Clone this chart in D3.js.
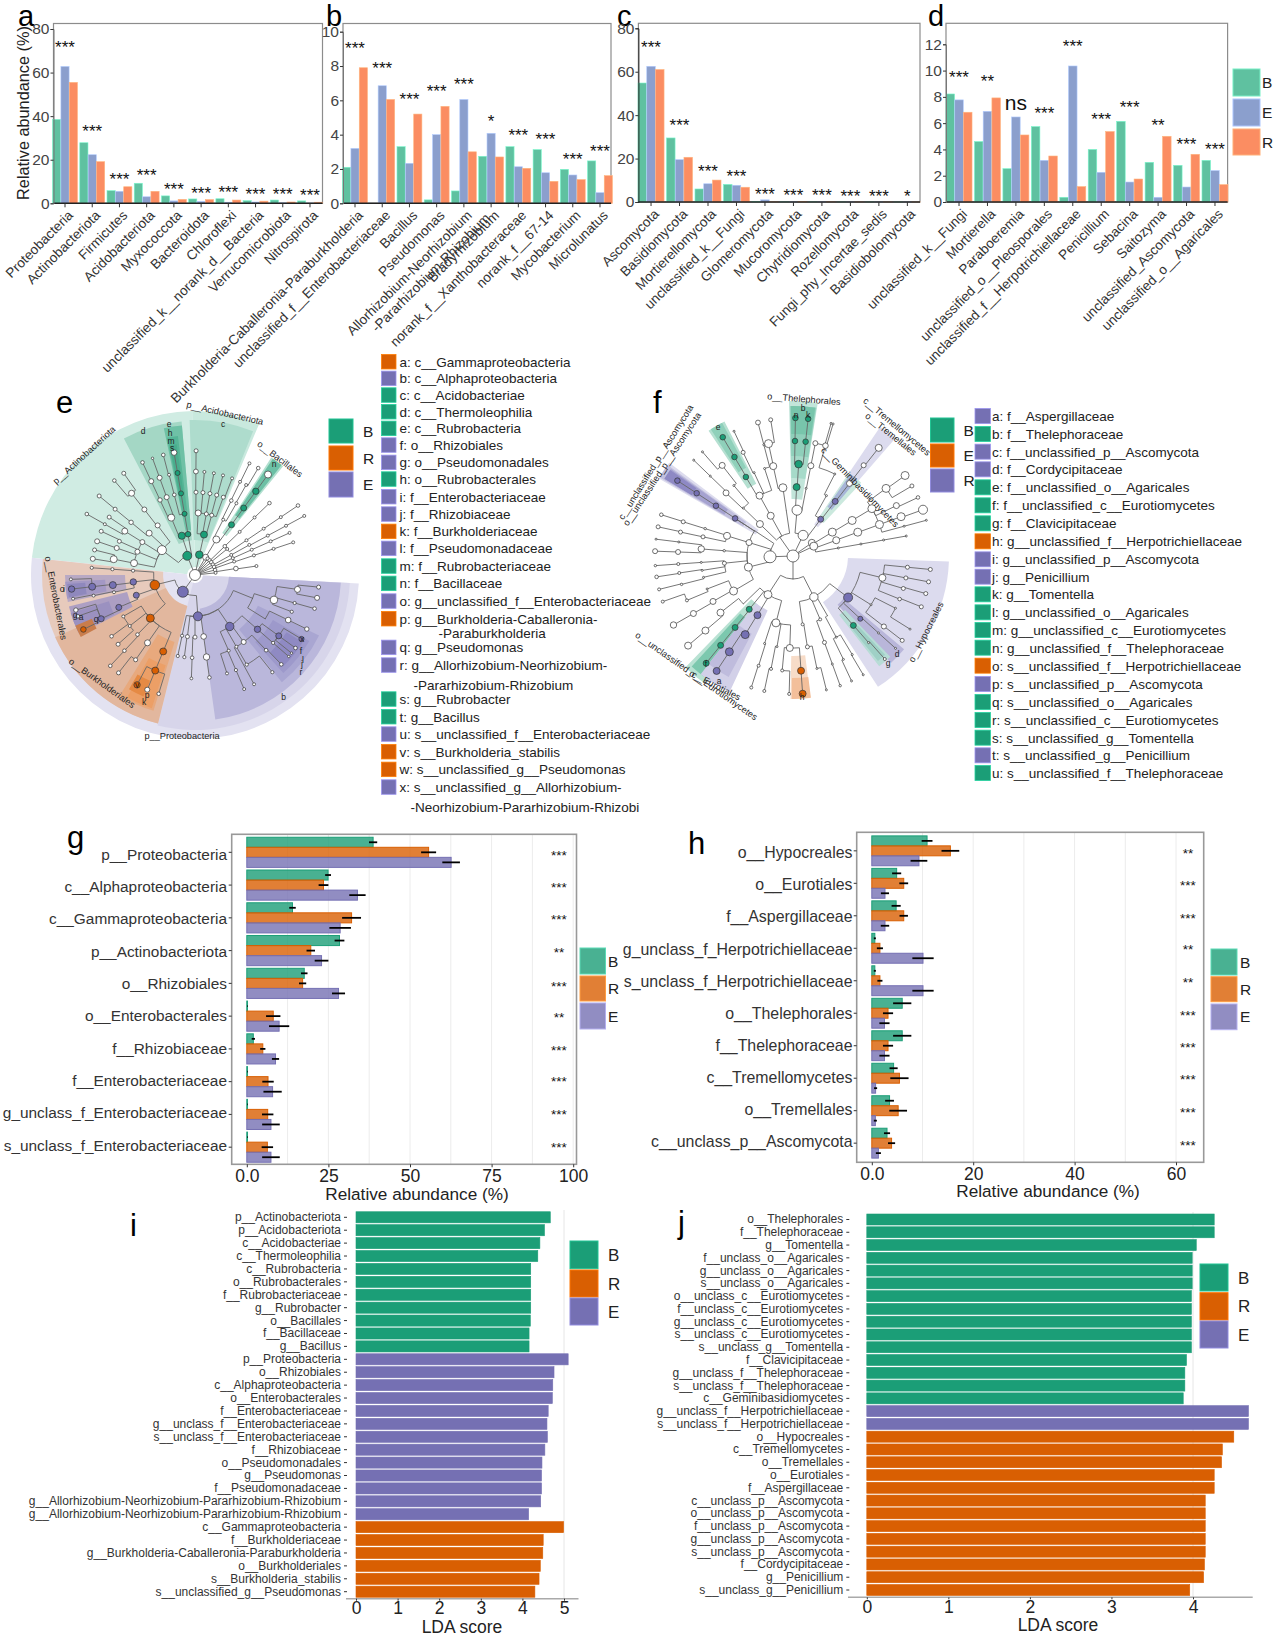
<!DOCTYPE html>
<html><head><meta charset="utf-8">
<script src="https://cdn.jsdelivr.net/npm/d3@7"></script>
<style>
html,body{margin:0;padding:0;background:#fff;}
svg{display:block;font-family:"Liberation Sans",Arial,sans-serif;}
</style></head><body><svg id="c" width="1277" height="1637"></svg>
<script>
// ---------- panels a-d ----------
const groupsTop=["B","E","R"];
const catsA=["Proteobacteria","Actinobacteriota","Firmicutes","Acidobacteriota","Myxococcota","Bacteroidota","Chloroflexi","unclassified_k__norank_d__Bacteria","Verrucomicrobiota","Nitrospirota"];
const aB=[38.5,27.8,5.8,9.2,3.4,2,2.1,1.2,1.5,1.1];
const aE=[62.8,22.3,5.5,3,1.1,.9,.5,.6,.2,.1];
const aR=[55.5,19.1,7.6,5.5,1.8,1.7,1.5,1,.6,.5];
const aSig=["***","***","***","***","***","***","***","***","***","***"];
const aSigY=[73.4,35.2,13,14.8,8.4,6.7,7,6,6.3,5.8];
const catsB=["Burkholderia-Caballeronia-Paraburkholderia","unclassified_f__Enterobacteriaceae","Bacillus","Pseudomonas","Allorhizobium-Neorhizobium|-Pararhizobium-Rhizobium","Bradyrhizobium","norank_f__Xanthobacteraceae","norank_f__67-14","Mycobacterium","Microlunatus"];
const bB=[2.1,0,3.3,.2,.72,2.74,3.3,3.13,1.98,2.47];
const bE=[3.2,6.85,2.33,4,6.05,4.08,2.13,1.78,1.65,.62];
const bR=[7.9,6.05,5.2,5.65,3,2.7,2.04,1.28,1.38,1.61];
const bSig=["***","***","***","***","***","*","***","***","***","***"];
const bSigY=[9.3,8.1,6.3,6.8,7.2,5.05,4.2,4,2.8,3.3];
const catsC=["Ascomycota","Basidiomycota","Mortierellomycota","unclassified_k__Fungi","Glomeromycota","Mucoromycota","Chytridiomycota","Rozellomycota","Fungi_phy_Incertae_sedis","Basidiobolomycota"];
const cB=[54.8,29.5,6,8.1,.2,.1,.1,.05,.05,.03];
const cE=[62.5,19.5,8.4,7.7,1,.1,.1,.05,.03,.03];
const cR=[61,20.6,10.1,6.8,.1,.3,.1,.05,.03,.03];
const cSig=["***","***","***","***","***","***","***","***","***","*"];
const cSigY=[73.4,37.2,16,13.7,5.7,5.2,4.9,4.8,4.8,4.8];
const catsD=["unclassified_k__Fungi","Mortierella","Paraboeremia","unclassified_o__Pleosporales","unclassified_f__Herpotrichiellaceae","Penicillium","Sebacina","Saitozyma","unclassified_Ascomycota","unclassified_o__Agaricales"];
const dB=[8.22,4.6,2.54,5.74,.36,4,6.14,3.02,2.79,3.17];
const dE=[7.77,6.9,6.47,3.17,10.35,2.26,1.52,.36,1.14,2.39];
const dR=[6.83,7.92,5.1,3.5,1.17,5.36,1.75,5,3.63,1.32];
const dSig=["***","**","ns","***","***","***","***","**","***","***"];
const dSigY=[9.8,9.5,7.5,7.1,12.2,6.65,7.56,6.2,4.75,4.3];
// ---------- panels g,h ----------
const catsG=["p__Proteobacteria","c__Alphaproteobacteria","c__Gammaproteobacteria","p__Actinobacteriota","o__Rhizobiales","o__Enterobacterales","f__Rhizobiaceae","f__Enterobacteriaceae","g_unclass_f_Enterobacteriaceae","s_unclass_f_Enterobacteriaceae"];
const gB=[38.7,24.9,14,28.4,17.6,.2,2,.2,.2,.2];
const gR=[55.7,23.5,32.1,19.6,17.1,8.1,4.9,6.5,6.4,6.3];
const gE=[62.6,33.9,28.6,22.9,28.1,9.9,8.8,7.9,7.4,7.4];
const gBe=[1.25,.9,1,1.5,1,.1,.5,.1,.1,.1];
const gRe=[2.3,1.5,2.9,1.3,1.1,2.2,.8,1.75,1.75,1.75];
const gEe=[2.7,2.5,3.3,2.1,2,3.1,1.1,2.8,2.7,2.7];
const gSig=["***","***","***","**","***","**","***","***","***","***"];
const catsH=["o__Hypocreales","o__Eurotiales","f__Aspergillaceae","g_unclass_f_Herpotrichiellaceae","s_unclass_f_Herpotrichiellaceae","o__Thelephorales","f__Thelephoraceae","c__Tremellomycetes","o__Tremellales","c__unclass_p__Ascomycota"];
const hB=[10.9,4.9,4.8,.6,.6,6,6,4.3,3.5,3];
const hR=[15.5,6.3,6.3,1.6,1.6,3.2,3.2,5.45,5.2,3.9];
const hE=[9.3,2.6,2.6,10.1,10.1,2.5,2.5,.75,.7,1.3];
const hBe=[1.07,.9,.9,.2,.2,1.8,1.8,.8,.87,.6];
const hRe=[1.75,.87,.83,.6,.5,1,1,1.8,1.75,.7];
const hEe=[1.65,.8,.83,2.1,2.1,1,1,.3,.3,.5];
const hSig=["**","***","***","**","**","***","***","***","***","***"];
// ---------- panels i,j ----------
const catsI=["p__Actinobacteriota","p__Acidobacteriota","c__Acidobacteriae","c__Thermoleophilia","c__Rubrobacteria","o__Rubrobacterales","f__Rubrobacteriaceae","g__Rubrobacter","o__Bacillales","f__Bacillaceae","g__Bacillus","p__Proteobacteria","o__Rhizobiales","c__Alphaproteobacteria","o__Enterobacterales","f__Enterobacteriaceae","g__unclass_f__Enterobacteriaceae","s__unclass_f__Enterobacteriaceae","f__Rhizobiaceae","o__Pseudomonadales","g__Pseudomonas","f__Pseudomonadaceae","g__Allorhizobium-Neorhizobium-Pararhizobium-Rhizobium","g__Allorhizobium-Neorhizobium-Pararhizobium-Rhizobium","c__Gammaproteobacteria","f__Burkholderiaceae","g__Burkholderia-Caballeronia-Paraburkholderia","o__Burkholderiales","s__Burkholderia_stabilis","s__unclassified_g__Pseudomonas"];
const ldaI=[4.67,4.53,4.42,4.37,4.2,4.2,4.2,4.2,4.19,4.16,4.16,5.1,4.76,4.73,4.72,4.62,4.59,4.6,4.54,4.47,4.46,4.46,4.44,4.15,4.99,4.5,4.49,4.43,4.4,4.3];
const grpI=["B","B","B","B","B","B","B","B","B","B","B","E","E","E","E","E","E","E","E","E","E","E","E","E","R","R","R","R","R","R"];
const catsJ=["o__Thelephorales","f__Thelephoraceae","g__Tomentella","f__unclass_o__Agaricales","g__unclass_o__Agaricales","s__unclass_o__Agaricales","o__unclass_c__Eurotiomycetes","f__unclass_c__Eurotiomycetes","g__unclass_c__Eurotiomycetes","s__unclass_c__Eurotiomycetes","s__unclass_g__Tomentella","f__Clavicipitaceae","g__unclass_f__Thelephoraceae","s__unclass_f__Thelephoraceae","c__Geminibasidiomycetes","g__unclass_f__Herpotrichiellaceae","s__unclass_f__Herpotrichiellaceae","o__Hypocreales","c__Tremellomycetes","o__Tremellales","o__Eurotiales","f__Aspergillaceae","c__unclass_p__Ascomycota","o__unclass_p__Ascomycota","f__unclass_p__Ascomycota","g__unclass_p__Ascomycota","s__unclass_p__Ascomycota","f__Cordycipitaceae","g__Penicillium","s__unclass_g__Penicillium"];
const ldaJ=[4.26,4.26,4.04,3.99,3.99,3.99,3.98,3.98,3.98,3.98,3.98,3.92,3.9,3.9,3.88,4.68,4.68,4.5,4.36,4.35,4.26,4.26,4.15,4.15,4.15,4.15,4.15,4.14,4.13,3.96];
const grpJ=["B","B","B","B","B","B","B","B","B","B","B","B","B","B","B","E","E","R","R","R","R","R","R","R","R","R","R","R","R","R"];
// ---------- cladogram legends ----------
const legE=[["a: c__Gammaproteobacteria","O"],["b: c__Alphaproteobacteria","P"],["c: c__Acidobacteriae","G"],["d: c__Thermoleophilia","G"],["e: c__Rubrobacteria","G"],["f: o__Rhizobiales","P"],["g: o__Pseudomonadales","P"],["h: o__Rubrobacterales","G"],["i: f__Enterobacteriaceae","P"],["j: f__Rhizobiaceae","P"],["k: f__Burkholderiaceae","O"],["l: f__Pseudomonadaceae","P"],["m: f__Rubrobacteriaceae","G"],["n: f__Bacillaceae","G"],["o: g__unclassified_f__Enterobacteriaceae","P"],["p: g__Burkholderia-Caballeronia-","O"],["-Paraburkholderia",""],["q: g__Pseudomonas","P"],["r: g__Allorhizobium-Neorhizobium-","P"],["-Pararhizobium-Rhizobium",""],["s: g__Rubrobacter","G"],["t: g__Bacillus","G"],["u: s__unclassified_f__Enterobacteriaceae","P"],["v: s__Burkholderia_stabilis","O"],["w: s__unclassified_g__Pseudomonas","O"],["x: s__unclassified_g__Allorhizobium-","P"],["-Neorhizobium-Pararhizobium-Rhizobi",""]];
const legEy=[35,85,135,185,235,285,337,387,440,492,544,595,648,700,753,806,850,892,945,1005,1047,1100,1152,1205,1258,1311,1370];
const legEx=[0,0,0,0,0,0,0,0,0,0,0,0,0,0,0,0,39,0,0,14,0,0,0,0,0,0,11];
const legF=[["a: f__Aspergillaceae","P"],["b: f__Thelephoraceae","G"],["c: f__unclassified_p__Ascomycota","P"],["d: f__Cordycipitaceae","P"],["e: f__unclassified_o__Agaricales","G"],["f: f__unclassified_c__Eurotiomycetes","G"],["g: f__Clavicipitaceae","G"],["h: g__unclassified_f__Herpotrichiellaceae","O"],["i: g__unclassified_p__Ascomycota","P"],["j: g__Penicillium","P"],["k: g__Tomentella","G"],["l: g__unclassified_o__Agaricales","G"],["m: g__unclassified_c__Eurotiomycetes","G"],["n: g__unclassified_f__Thelephoraceae","G"],["o: s__unclassified_f__Herpotrichiellaceae","O"],["p: s__unclassified_p__Ascomycota","P"],["q: s__unclassified_o__Agaricales","G"],["r: s__unclassified_c__Eurotiomycetes","G"],["s: s__unclassified_g__Tomentella","G"],["t: s__unclassified_g__Penicillium","P"],["u: s__unclassified_f__Thelephoraceae","G"]];
const legFy=[138,192,245,298,352,406,460,514,568,620,673,727,780,833,887,942,996,1050,1103,1156,1209];
// cladogram tree rows: [level, bearing degrees, colour, node size]; the parent of a row is the latest row of a lower level
const treeE=[[0,0,"w",5.5],
[1,-22,"G",4.5],[2,-53,"w",4.5],[3,-79,"w",3.5],[4,-79,"w",3.5],[5,-76,"w",2],[5,-81,"w",2.5],[4,-71,"w",2.5],[5,-71,"w",2.5],
[3,-68,"w",2.5],[3,-58,"w",2.5],[4,-58,"w",3],[5,-56,"w",2],[5,-60.6,"w",1.5],[6,-60.6,"w",1.8],[4,-66,"w",2],[5,-65,"w",2],
[3,-47.6,"w",3],[4,-50.5,"w",2.2],[5,-50.5,"w",2],[6,-50.5,"w",2],[3,-37,"w",2.5],[4,-37.7,"w",2.5],[5,-37.8,"w",3],[6,-35,"w",2],[6,-40.5,"w",1.8],
[2,-18.6,"G",3.6],[3,-22.5,"w",3.5],[4,-25,"w",2.2],[5,-25,"w",2.5],[6,-25,"w",1.8],[4,-20,"w",2.5],[5,-20,"w",2.5],[6,-20,"w",1.2],
[2,-9.7,"G",2.8],[3,-9.7,"G",2.5],[4,-9.7,"G",2.5],[5,-9.7,"G",2.5],[6,-9.7,"w",2.8],[4,-14.5,"w",1.8],[5,-14.5,"w",1.5],[6,-14.8,"w",1.8],
[1,12,"G",3.8],[2,12.5,"G",3.5],[3,2.9,"w",3],[4,.7,"w",2],[5,.5,"w",2.4],[6,.5,"w",2],[3,10.5,"w",2],[4,5.5,"w",2],[5,5.2,"w",1.5],
[3,15.6,"w",2],[4,10.4,"w",2],[5,10.5,"w",1.5],[4,15.2,"w",2],[5,15.7,"w",1.5],[4,20,"w",2],[5,21,"w",1.5],
[1,31,"w",3],[2,31,"w",3.5],[3,36,"G",3],[4,36,"G",3],[5,36,"G",3.2],[6,36,"w",3.5],[3,27,"w",1.5],[4,26,"w",1.8],[5,25.8,"w",1.5],[6,26,"w",1.5],[4,30,"w",1.5],[5,29.6,"w",1.5],[6,30.6,"w",1.8],
[1,38,"w",1.8],[2,46,"w",1.8],[3,46,"w",1.5],[4,46,"w",1.5],[5,46,"w",1.8],[1,45,"w",1.8],[2,51,"w",1.5],[3,56,"w",1.5],[4,56,"w",1.5],[5,56,"w",1.5],[6,56,"w",1.8],
[1,52,"w",1.8],[2,61,"w",1.5],[3,61,"w",1.5],[4,61.6,"w",1.5],[5,61.6,"w",1.5],[6,61.6,"w",1.5],[1,60,"w",1.8],[2,66,"w",1.5],[3,66,"w",1.5],[4,66,"w",1.5],[5,66,"w",1.5],
[1,67,"w",1.8],[2,71,"w",1.5],[3,71.6,"w",1.5],[4,71.6,"w",1.5],[5,71.6,"w",1.5],[1,76,"w",1.8],[2,81,"w",2.3],[3,81.7,"w",1.5],[1,84,"w",1.5],
[1,216,"P",5.5],[2,256,"O",4.8],[3,226,"O",4],[4,202.6,"O",3.5],[5,202.6,"O",3.5],[6,207.8,"O",3.2],[6,202.6,"w",2.5],[6,197,"w",1.8],
[4,215,"w",3],[5,215,"w",2],[6,218,"w",2],[4,224,"w",1.8],[5,223,"w",1.8],[6,223,"w",1.8],[4,232,"w",1.5],[5,228,"w",2],[4,240,"w",1.5],[5,233.7,"w",1.8],
[3,251,"P",3],[4,247,"P",3],[5,245,"P",3],[6,244,"O",2.8],[6,250.6,"w",1.8],[6,253.6,"w",2.2],[3,263.6,"P",3.2],[4,263,"P",3.5],[5,263.5,"P",3.5],[6,263.5,"P",3.2],[6,268,"w",1.5],
[4,258,"w",1.5],[5,258.5,"w",1.5],[6,259,"w",1.5],[3,274,"w",1.6],[4,274,"w",1.6],[5,274,"w",1.6],
[2,176,"P",4.5],[3,146,"P",4.2],[4,131,"P",3.2],[5,126,"P",3],[6,121,"P",2.6],[6,126,"w",1.8],[6,129,"w",1.2],[6,131,"w",1.2],[5,131,"w",1.6],
[4,144,"w",2.5],[5,136.6,"w",1.8],[6,136,"w",1.8],[5,150,"w",1.6],[6,141.5,"w",1.6],[4,150,"w",1.5],[6,151.6,"w",1.5],[4,156,"w",1.5],[5,156.7,"w",1.6],[6,156.7,"w",1.5],[5,162,"w",1.5],
[3,172,"w",2.8],[4,172,"w",3.2],[5,172,"w",1.8],[3,180,"w",2],[4,182,"w",1.8],[5,182,"w",1.4],[3,187,"w",2],[4,187.4,"w",1.6],[3,192,"w",1.6],[4,192,"w",1.6],
[3,112,"w",.1],[4,107.5,"w",3.8],[5,98,"w",3],[6,95.6,"w",2],[6,100.6,"w",2.5],[5,105.7,"w",1.6],[6,105.7,"w",1.8],[5,110.8,"w",1.6],[4,122,"w",.1],[5,115.8,"w",2.8],[6,115.8,"w",2.2]];
// [bearing from, bearing to, inner radius, outer radius, fill]
const wedgesE=[[-84,-1,8,164,"#d0ece3"],[-1,23,8,164,"#c9e9de"],[-2,22,35,155,"#aedccd"],[-27.5,-5,35,154,"#a4d7c5"],[-12,-5,45,150,"#6fc1a6"],[-11.5,-7,65,140,"#55b596"],[-11,-8,85,132,"#49ad8d"],
[33,39,50,140,"#b3e0d0"],[33.8,38.2,72,140,"#6cc0a5"],[93,276,8,164,"#e3e2f1"],[93,194,8,155,"#d7d5ea"],[93,172,34,146,"#bab7db"],[116,141,70,138,"#a9a6d2"],[120,138,90,132,"#9d99cb"],[122,136,108,127,"#8f8ac3"],
[194,276,32,153,"#e7cabc"],[194,246,32,153,"#e2b79e"],[197,212,70,142,"#e8a97d"],[198,209,95,140,"#ec9f66"],[203,210,115,132,"#e58a44"],[258,270,70,130,"#b8a9c4"],[259.5,267,90,130,"#a398c4"],[260,266,110,128,"#8f88bd"],[243,256,70,130,"#ad9fc3"],[244,253,90,130,"#9b91c0"],[241.5,247,112,130,"#c97d4c"]];
// [text, x, y, rotation]
const labelsE=[["p__Acidobacteriota",225,413,13],["p__Actinobacteriota",84,455,-42.5],["o__Bacillales",280,459,37],["o__Enterobacterales",56,598,79],["o__Burkholderiales",102,683,35.5],["p__Proteobacteria",182,736,0]];
const lettersE=[["d",143,431],["e",169,424],["h",170,433],["m",171,441],["s",172,448],["c",223,424],["n",274,464],["b",283.6,697],["f",301,651],["j",302,664],["r",301,672],["l",303,660],["x",302,639],["q",96,619],["o",62,589],["i",64,589],["g",75,615],["a",81,617],["k",144,702],["p",147,695],["v",137,685]];
const treeF=[[0,0,"w",6],
[1,268,"w",6],[2,256,"w",4],[3,-73,"w",3.5],[4,-78,"w",2],[5,-78,"w",2],[6,-77.8,"w",2],[4,-72.7,"w",1.2],[5,-72.7,"w",2],[6,-72.6,"w",1.8],
[3,-85.6,"w",1.2],[4,-85.6,"w",3.2],[5,-88,"w",2.5],[6,-88,"w",2.5],[5,-83,"w",1],[6,-83,"w",1],
[3,264,"w",2],[4,266,"w",1],[5,266,"w",1.5],[6,266,"w",1.2],[4,261,"w",1],[5,261.5,"w",1.5],[6,261.3,"w",1.8],[4,256.6,"w",1],[5,255.7,"w",1.2],[6,256,"w",1.5],
[3,239.5,"w",4],[4,240.4,"w",3],[5,240,"w",3],[6,240,"w",3.2],[4,249,"w",1],[5,247.3,"w",1.5],[6,250.7,"w",1.5],
[2,-73,"w",3],[3,-57,"P",.1],[2,-56.6,"P",.1],[3,-57,"P",2.8],[4,-56.9,"P",2.8],[5,-56.9,"P",2.8],[6,-56.9,"P",2.8],
[1,-35,"w",.1],[2,-46,"w",3.5],[3,-46,"w",1],[4,-46.7,"w",3],[5,-46,"w",1],[6,-46,"w",1],[4,-40,"w",1],[5,-38,"w",3],[6,-41,"w",1],
[2,-29,"w",3.5],[3,-29,"w",3.5],[4,-30.8,"G",2.8],[5,-30.6,"G",2.8],[6,-30.6,"G",2.8],[4,-25,"w",1],[5,-25.7,"w",2],[6,-25.3,"w",1],[4,-18,"w",1],[5,-14.7,"w",1],[6,-14.7,"w",2.4],
[2,-8.4,"w",.1],[3,-8.4,"w",4],[4,-12.4,"w",3.5],[5,-12.3,"w",4],[6,-9.3,"w",2],
[1,26,"w",5],[2,5,"w",5],[3,3,"G",3.5],[4,3.5,"G",3.8],[5,1,"G",2.8],[6,1,"G",2.8],[5,6.3,"G",2.8],[6,6.3,"G",2.8],[3,11,"w",1],[4,11.2,"w",3],[5,11.2,"w",2.5],[6,16,"w",1],
[2,37,"P",3],[3,37.7,"P",3],[4,37.9,"w",3],[5,37.9,"w",2.5],[6,38.4,"w",3.5],[3,29,"w",1],[4,27,"w",1],[5,16.4,"w",2.8],[6,16.9,"w",1],
[1,55,"w",3.5],[2,58.7,"w",4],[3,59,"w",4],[4,59,"w",4],[5,54,"w",4],[6,54.3,"w",4],[6,59.5,"w",2],[5,64,"w",3],[6,64.9,"w",1.8],[5,70,"w",4],[6,70.4,"w",4.5],
[1,64.7,"w",4],[2,70,"w",3.5],[3,69.8,"w",4],[4,70,"w",4],[5,75,"w",1],[6,75,"w",1],[2,80,"w",1],[3,80,"w",1],[4,80,"w",1],[5,80,"w",1],
[1,180,"w",.1],[2,153,"w",4.2],[3,127,"P",4.5],[4,103.7,"w",3.5],[5,95.6,"w",2],[6,95.6,"w",2],[5,101,"w",2],[6,100.8,"w",2],[5,106.4,"w",2],[6,105.8,"w",2],[5,112,"w",1.8],[6,111.6,"w",2],
[4,122,"w",1],[5,117,"w",1],[6,122,"w",1],[5,127.8,"w",2.5],[6,127.7,"w",2],[4,133,"P",2.5],[5,132,"w",1],[6,132,"w",1],[4,139,"G",3],[5,138.9,"w",1],[6,138.3,"w",1.5],
[3,172,"w",1.5],[4,171,"w",2],[5,168,"w",1],[6,166,"w",1],[3,156.8,"w",1.5],[4,160,"w",2],[5,160,"w",1],[6,160,"w",1.2],[3,150,"w",.1],[4,152,"w",1],[5,154,"w",1],[6,154.9,"w",1],[5,149,"w",1],[6,149.4,"w",1],
[2,213,"w",4],[3,194.3,"w",4],[4,182,"w",3.5],[5,176,"O",3.5],[6,176,"O",3.5],[5,185.4,"w",1.5],[6,181.6,"w",1.5],[4,198,"w",1],[5,197.4,"w",1.5],[6,197.6,"w",1.5],[4,190,"w",1],[5,191,"w",1.5],[6,192,"w",1.5],
[3,211,"P",3.5],[4,211.3,"P",4],[5,213.6,"P",4],[6,213.6,"P",3.5],[3,219.4,"G",3],[4,219,"G",3],[5,219,"G",3],[6,219,"G",3],[3,226,"w",.1],[4,232,"w",3.5],[5,229.6,"w",3.5],[6,229.5,"w",3.5]];
const wedgesF=[[92,147,55,156,"#dcdbee"],[130,137.5,66,145,"#b9b6da"],[136,142,75,140,"#b7dcd6"],[137,141,95,135,"#9fd0c6"],
[-1.5,9.2,57,155,"#c2e5da"],[-1.2,9,78,150,"#a6dac9"],[-1,8.8,100,150,"#8fcfba"],[-.8,8.5,122,150,"#78c5ab"],
[-34,-27,81,151,"#b5e0d1"],[-33,-28,100,151,"#8fd0ba"],[-60,-53,43,155,"#dddcee"],[-59.5,-54,58,155,"#c1bfde"],[-59,-54.5,80,150,"#a5a2d0"],[-59,-55,118,150,"#8e89c4"],
[34,41,38,156,"#dcdbee"],[34,43,45,100,"#cbe9de"],[35,40,60,100,"#a7b5d8"],[215,224,60,155,"#b9e2d3"],[216,222.5,78,150,"#7cc8ae"],[205,218,60,150,"#d2d0e8"],[208,218,88,137,"#bfbcdd"],
[173,181,100,143,"#f7dcc8"],[172.8,180.5,122,143,"#f3bf9a"]];
const labelsF=[["o__Thelephorales",804,399,4.6],["c__Tremellomycetes",897,426.5,40],["o__Tremellales",891,434,38.6],["c__Geminibasidiomycetes",860,487,46],["c__unclassified_p__Ascomycota",655.7,462,-58],["o__unclassified_p__Ascomycota",662,469,-56.5],["o__Hypocreales",926,632,-63],["o__unclassified_c__Eurotiomycetes",696.5,676,35],["o__Eurotiales",715,685,27]];
const lettersF=[["b",803,408],["n",796,415],["k",808,415],["e",718,427],["d",897,654],["g",888,663],["a",719,681],["f",706,664],["h",802,697]];

// ---------- helpers ----------
const svg=d3.select("#c");
const font="Liberation Sans";
const setCol={B:"#5fc1a0",E:"#8b9fcd",R:"#fb8d62"};
const darkCol={G:"#1b9e77",O:"#d95f02",P:"#7570b3",B:"#1b9e77",R:"#d95f02",E:"#7570b3",w:"#fff"};
const rad=d=>d*Math.PI/180;

function letter(t,x,y,fs){svg.append("text").attr("x",x).attr("y",y).attr("font-size",fs||31).attr("fill","#000").text(t);}
function topPanel(cfg){
  const g=svg.append("g");
  const {x0,x1,yT,y0,yMax,yMaxPx,ticks,cats,vals,sig,sigY}=cfg;
  const y=d3.scaleLinear().domain([0,yMax]).range([y0,yMaxPx]);
  const x=d3.scaleBand().domain(cats).range([cfg.b0,cfg.b1]);
  const sub=d3.scaleBand().domain(groupsTop).range([0,x.bandwidth()]).paddingInner(.02).paddingOuter(.14);
  g.append("rect").attr("x",x0).attr("y",yT).attr("width",x1-x0).attr("height",y0-yT).attr("fill","#fff").attr("stroke","#8c8c8c").attr("stroke-width",1.2);
  groupsTop.forEach((k,gi)=>{
    g.selectAll(null).data(vals[gi]).join("rect")
     .attr("x",(d,i)=>x(cats[i])+sub(k)).attr("width",sub.bandwidth())
     .attr("y",d=>y(d)).attr("height",d=>y0-y(d))
     .attr("fill",setCol[k]).attr("stroke",d3.color(setCol[k]).brighter(.7)).attr("stroke-width",.6);
  });
  g.append("line").attr("x1",x0).attr("x2",x1).attr("y1",y0).attr("y2",y0).attr("stroke","#222").attr("stroke-width",1.4);
  const ya=g.append("g").attr("transform",`translate(${x0},0)`).call(d3.axisLeft(y).tickValues(ticks).tickSize(3).tickPadding(1).tickFormat(d3.format("d")));
  ya.select(".domain").attr("stroke",cfg.leftCol||"#777");
  ya.selectAll("line").attr("stroke","#333");
  ya.selectAll("text").attr("font-size",15.5).attr("fill","#444").attr("font-family",font);
  cats.forEach((c,i)=>{
    const cx=x(c)+x.bandwidth()/2;
    g.append("line").attr("x1",cx).attr("x2",cx).attr("y1",y0).attr("y2",y0+4).attr("stroke","#333");
    const lines=c.split("|");
    const t=g.append("g").attr("transform",`translate(${cx+6},${y0+10}) rotate(-45)`);
    lines.forEach((l,j)=>t.append("text").attr("x",j*11).attr("y",j*15+4).attr("text-anchor","end").attr("font-size",13.6).attr("fill","#333").text(l));
    const s=sig[i];
    const st=g.append("text").attr("x",cx).attr("text-anchor","middle").attr("fill","#111");
    if(s==="ns") st.attr("y",y(sigY[i])+7).attr("font-size",21).text(s);
    else st.attr("y",y(sigY[i])+10).attr("font-size",17).text(s);
  });
}
function hLegend(items,x0,x1,ys,tx,fn,fs){
  items.forEach((k,i)=>{
    svg.append("rect").attr("x",x0).attr("y",ys[i][0]).attr("width",x1-x0).attr("height",ys[i][1]-ys[i][0]).attr("fill",fn(k)).attr("stroke",d3.color(fn(k)).brighter(.6)).attr("stroke-width",1);
    svg.append("text").attr("x",tx).attr("y",(ys[i][0]+ys[i][1])/2).attr("dy",".36em").attr("font-size",fs).attr("fill","#222").text(k);
  });
}
function abund(cfg){
  const {fx0,fx1,fy0,fy1,px0,pxAt,vAt,ticks,minor,cats,vals,errs,sig,cy0,cy1,lblX,fmt,starX,starY,titleX,titleY}=cfg;
  const g=svg.append("g");
  const x=d3.scaleLinear().domain([0,vAt]).range([px0,pxAt]);
  const step=(cy1-cy0)/(cats.length-1);
  const y=d3.scaleBand().domain(cats).range([cy0-step/2,cy1+step/2]).paddingInner(.08);
  const sub=d3.scaleBand().domain(["B","R","E"]).range([0,y.bandwidth()]);
  minor.forEach(v=>g.append("line").attr("x1",x(v)).attr("x2",x(v)).attr("y1",fy0).attr("y2",fy1).attr("stroke","#ececec").attr("stroke-width",1));
  ["B","R","E"].forEach((k,gi)=>{
    g.selectAll(null).data(vals[gi]).join("rect")
      .attr("x",x(0)).attr("width",d=>x(d)-x(0))
      .attr("y",(d,i)=>y(cats[i])+sub(k)).attr("height",sub.bandwidth())
      .attr("fill",darkCol[k]).attr("fill-opacity",.8).attr("stroke",darkCol[k]).attr("stroke-width",1);
    g.selectAll(null).data(vals[gi]).join("line")
      .attr("x1",(d,i)=>x(d-errs[gi][i])).attr("x2",(d,i)=>x(d+errs[gi][i]))
      .attr("y1",(d,i)=>y(cats[i])+sub(k)+sub.bandwidth()/2).attr("y2",(d,i)=>y(cats[i])+sub(k)+sub.bandwidth()/2)
      .attr("stroke","#000").attr("stroke-width",1.8);
  });
  g.append("rect").attr("x",fx0).attr("y",fy0).attr("width",fx1-fx0).attr("height",fy1-fy0).attr("fill","none").attr("stroke","#999").attr("stroke-width",1.6);
  cats.forEach((c,i)=>{
    const cy=y(c)+y.bandwidth()/2;
    g.append("line").attr("x1",fx0-3).attr("x2",fx0).attr("y1",cy).attr("y2",cy).attr("stroke","#333");
    g.append("text").attr("x",lblX).attr("y",cy+cfg.lblDy*(1-2*i/(cats.length-1))).attr("dy",".36em").attr("text-anchor","end").attr("font-size",cfg.lblFs).attr("fill","#333").text(c);
    g.append("text").attr("x",starX).attr("y",starY[i]+7.5).attr("text-anchor","middle").attr("font-size",13.5).attr("fill","#111").text(sig[i]);
  });
  const xa=g.append("g").attr("transform",`translate(0,${fy1})`).call(d3.axisBottom(x).tickValues(ticks).tickSize(3).tickPadding(2).tickFormat(fmt));
  xa.select(".domain").remove();
  xa.selectAll("line").attr("stroke","#333");
  xa.selectAll("text").attr("font-size",17.5).attr("fill","#222").attr("font-family",font);
  g.append("text").attr("x",titleX).attr("y",titleY).attr("dy",".36em").attr("text-anchor","middle").attr("font-size",17.2).attr("fill","#222").text("Relative abundance (%)");
}
function lda(cfg){
  const {cats,vals,grp,px0,pxAt,vAt,axisY,ax0,ax1,cy0,cy1,lblX,ticks,grid,gridTop,titleX,titleY,fs}=cfg;
  const g=svg.append("g");
  const x=d3.scaleLinear().domain([0,vAt]).range([px0,pxAt]);
  const step=(cy1-cy0)/(cats.length-1);
  const y=d3.scaleBand().domain(d3.range(cats.length)).range([cy0-step/2,cy1+step/2]).paddingInner(.14).paddingOuter(.07);
  g.append("line").attr("x1",x(grid)).attr("x2",x(grid)).attr("y1",gridTop).attr("y2",axisY).attr("stroke","#e6e6e6");
  g.selectAll(null).data(vals).join("rect").attr("x",x(0)).attr("width",d=>x(d)-x(0))
    .attr("y",(d,i)=>y(i)).attr("height",y.bandwidth())
    .attr("fill",(d,i)=>darkCol[grp[i]]).attr("stroke",(d,i)=>darkCol[grp[i]]).attr("stroke-width",.6);
  cats.forEach((c,i)=>{
    const cy=y(i)+y.bandwidth()/2;
    g.append("text").attr("x",lblX).attr("y",cy).attr("dy",".33em").attr("text-anchor","end").attr("font-size",fs).attr("fill","#333").text(c);
    g.append("line").attr("x1",lblX+3).attr("x2",lblX+6).attr("y1",cy).attr("y2",cy).attr("stroke","#333");
  });
  g.append("line").attr("x1",ax0).attr("x2",ax1).attr("y1",axisY).attr("y2",axisY).attr("stroke","#aaa").attr("stroke-width",1.4);
  const xa=g.append("g").attr("transform",`translate(0,${axisY})`).call(d3.axisBottom(x).tickValues(ticks).tickSize(2).tickPadding(1).tickFormat(d3.format("d")));
  xa.select(".domain").remove();
  xa.selectAll("line").attr("stroke","#333");
  xa.selectAll("text").attr("font-size",17.5).attr("fill","#222").attr("font-family",font);
  g.append("text").attr("x",titleX).attr("y",titleY).attr("dy",".36em").attr("text-anchor","middle").attr("font-size",17.5).attr("fill","#222").text("LDA score");
}
function clado(cfg){
  const g=svg.append("g").attr("transform",`translate(${cfg.cx},${cfg.cy})`);
  const R=l=>l*cfg.step;
  const arc=d3.arc();
  cfg.wedges.forEach(w=>g.append("path").attr("d",arc({startAngle:rad(w[0]),endAngle:rad(w[1]),innerRadius:w[2],outerRadius:w[3]})).attr("fill",w[4]));
  const stack=[];const edges=[];
  const pts=cfg.tree.map(r=>{
    const n={l:r[0],b:r[1],c:r[2],s:r[3]};
    while(stack.length&&stack[stack.length-1].l>=n.l)stack.pop();
    n.p=stack[stack.length-1]||null;stack.push(n);
    if(n.p)edges.push(n);
    return n;
  });
  const rp=(r,b)=>[r*Math.cos(rad(b-90)),r*Math.sin(rad(b-90))];
  edges.forEach(n=>{
    const pth=d3.path();const r0=R(n.p.l);
    const a=rp(R(n.l),n.b),b=rp(r0,n.b);
    pth.moveTo(a[0],a[1]);pth.lineTo(b[0],b[1]);
    if(r0>0){
      let d=((n.p.b-n.b)%360+540)%360-180;
      pth.arc(0,0,r0,rad(n.b-90),rad(n.b+d-90),d<0);
    }
    g.append("path").attr("d",pth.toString()).attr("fill","none").attr("stroke","#666").attr("stroke-width",.9);
  });
  pts.forEach(n=>{
    const p=rp(R(n.l),n.b);
    g.append("circle").attr("cx",p[0]).attr("cy",p[1]).attr("r",n.s).attr("fill",darkCol[n.c]).attr("stroke","#333").attr("stroke-width",.7);
  });
  cfg.labels.forEach(l=>svg.append("text").attr("transform",`translate(${l[1]},${l[2]}) rotate(${l[3]})`).attr("text-anchor","middle").attr("dy",".35em").attr("font-size",9.2).attr("fill","#222").text(l[0]));
  cfg.letters.forEach(l=>svg.append("text").attr("x",l[1]).attr("y",l[2]).attr("text-anchor","middle").attr("dy",".35em").attr("font-size",8.5).attr("fill","#222").text(l[0]));
}

// ---------- draw ----------
letter("a",18,26,29);letter("b",326,26,29);letter("c",617,26,29);letter("d",928,26,29);
topPanel({x0:53.5,x1:322.5,yT:23.5,y0:203.3,yMax:80,yMaxPx:29,ticks:[0,20,40,60,80],b0:51.4,b1:323.6,cats:catsA,vals:[aB,aE,aR],sig:aSig,sigY:aSigY});
topPanel({x0:343,x1:611,yT:23.5,y0:203.3,yMax:10,yMaxPx:31.7,ticks:[0,2,4,6,8,10],b0:341.4,b1:613.6,cats:catsB,vals:[bB,bE,bR],sig:bSig,sigY:bSigY});
topPanel({x0:638.4,x1:920,yT:23.3,y0:202,yMax:80,yMaxPx:28.3,ticks:[0,20,40,60,80],b0:636.8,b1:921.6,cats:catsC,vals:[cB,cE,cR],sig:cSig,sigY:cSigY,leftCol:"#222"});
topPanel({x0:946,x1:1227.6,yT:23.3,y0:202,yMax:12,yMaxPx:44.3,ticks:[0,2,4,6,8,10,12],b0:944.8,b1:1229.2,cats:catsD,vals:[dB,dE,dR],sig:dSig,sigY:dSigY});
svg.append("text").attr("transform","translate(23,113) rotate(-90)").attr("text-anchor","middle").attr("dy",".36em").attr("font-size",16.3).attr("fill","#222").text("Relative abundance (%)");
hLegend(["B","E","R"],1233,1260,[[69,96],[99,126],[129,155]],1262,k=>setCol[k],15.5);

letter("e",56,413);
clado({cx:195,cy:575,step:20.7,tree:treeE,wedges:wedgesE,labels:labelsE,letters:lettersE});
hLegend(["B","R","E"],329,353,[[419,443],[446,470],[472,497]],363,k=>darkCol[k],15.5);
legE.forEach((r,i)=>{
  const yy=350+legEy[i]/3;
  if(r[1])svg.append("rect").attr("x",381.5).attr("y",yy-7.2).attr("width",14.5).attr("height",14.5).attr("fill",darkCol[r[1]]).attr("stroke",d3.color(darkCol[r[1]]).brighter(.8)).attr("stroke-width",.8);
  svg.append("text").attr("x",399.5+legEx[i]).attr("y",yy).attr("dy",".36em").attr("font-size",13.5).attr("fill","#222").text(r[0]);
});
letter("f",653,413);
clado({cx:793,cy:556,step:23,tree:treeF,wedges:wedgesF,labels:labelsF,letters:lettersF});
hLegend(["B","E","R"],930.5,954,[[418,442],[444,467],[469,492]],963.6,k=>k==="B"?darkCol.B:k==="E"?darkCol.R:darkCol.E,15.5);
legF.forEach((r,i)=>{
  const yy=370+legFy[i]/3;
  svg.append("rect").attr("x",975).attr("y",yy-7.5).attr("width",15.4).attr("height",15).attr("fill",darkCol[r[1]]).attr("stroke",d3.color(darkCol[r[1]]).brighter(.8)).attr("stroke-width",.8);
  svg.append("text").attr("x",992).attr("y",yy).attr("dy",".36em").attr("font-size",13.5).attr("fill","#222").text(r[0]);
});

letter("g",67,848);
abund({fx0:231.7,fx1:576.5,fy0:834.3,fy1:1164.3,px0:246.8,pxAt:573.2,vAt:100,ticks:[0,25,50,75,100],minor:[12.5,25,37.5,50,62.5,75,87.5,100],cats:catsG,vals:[gB,gR,gE],errs:[gBe,gRe,gEe],sig:gSig,cy0:853.5,cy1:1146,lblX:227,lblFs:15.4,lblDy:2,fmt:d=>d===0?"0.0":d,starX:559,starY:[97,193,290,387,489,583,681,776,875,974].map(v=>820+v/3),titleX:417,titleY:1194});
hLegend(["B","R","E"],580,605.5,[[948,974],[976,1001],[1003,1029]],608,k=>d3.interpolateRgb("#fff",darkCol[k])(.8),15.5);
letter("h",688,854);
abund({fx0:856.7,fx1:1203.7,fy0:832.3,fy1:1162.3,px0:871.8,pxAt:1176,vAt:60,ticks:[0,20,40,60],minor:[10,20,30,40,50,60],cats:catsH,vals:[hB,hR,hE],errs:[hBe,hRe,hEe],sig:hSig,cy0:852,cy1:1142,lblX:852.5,lblFs:15.9,lblDy:1.5,fmt:d=>d===0?"0.0":d,starX:1188,starY:[90,187,285,380,477,576,673,770,868,966].map(v=>820+v/3),titleX:1048,titleY:1191});
hLegend(["B","R","E"],1211,1237,[[949,975],[976.7,1001.7],[1004,1029.7]],1240,k=>d3.interpolateRgb("#fff",darkCol[k])(.8),15.5);
letter("i",130,1236);
lda({cats:catsI,vals:ldaI,grp:grpI,px0:356,pxAt:564,vAt:5,axisY:1598.7,ax0:346,ax1:578.5,cy0:1217.3,cy1:1591.7,lblX:341,ticks:[0,1,2,3,4,5],grid:5,gridTop:1210,titleX:462,titleY:1626.7,fs:12});
hLegend(["B","R","E"],570,598,[[1241,1268.7],[1270,1297],[1298,1325]],608,k=>darkCol[k],17);
letter("j",678,1233);
lda({cats:catsJ,vals:ldaJ,grp:grpJ,px0:866.8,pxAt:1193,vAt:4,axisY:1597.3,ax0:848,ax1:1252.7,cy0:1219.5,cy1:1590,lblX:843.3,ticks:[0,1,2,3,4],grid:4,gridTop:1212,titleX:1058,titleY:1624.7,fs:12});
hLegend(["B","R","E"],1200,1228,[[1264,1291],[1292.7,1320],[1321,1348]],1238,k=>darkCol[k],17);
</script></body></html>
